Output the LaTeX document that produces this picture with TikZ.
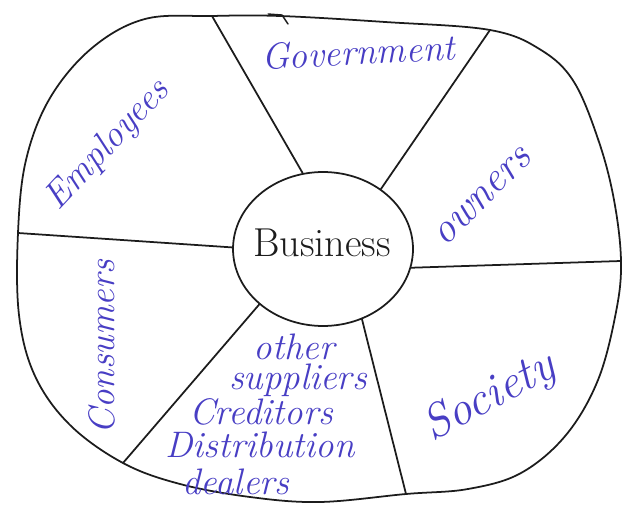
\documentclass[tikz,border=0pt]{standalone}
\usetikzlibrary{shapes.geometric}
\definecolor{ink}{RGB}{72,62,196}
\definecolor{pencil}{RGB}{28,28,28}
\tikzset{
  stroke/.style={draw=pencil, line width=1pt, line cap=round, line join=round},
  hub/.style={ellipse, stroke, minimum width=3.6cm, minimum height=3.08cm, inner sep=0pt},
  party/.style={text=ink, font=\fontsize{21}{24}\selectfont\itshape, inner sep=0pt},
  hubtext/.style={text=pencil, font=\fontsize{23}{26}\selectfont, inner sep=0pt},
}
\begin{document}
\begin{tikzpicture}[x=0.02cm, y=-0.02cm]
\useasboundingbox (0,0) rectangle (628,506);

% spoke ends on the outer rim
\coordinate (rw)  at (18,233);
\coordinate (rnw) at (212,16);
\coordinate (rne) at (490,30);
\coordinate (re)  at (621,261);
\coordinate (rs)  at (406,494);
\coordinate (rsw) at (123,463);

% outer rim
\draw[stroke] plot[smooth cycle, tension=0.6] coordinates {
  (rw) (26,160) (50,98) (92,48) (145,19) (rnw) (280,16) (385,22)
  (rne) (541,50) (574,82) (599,142) (614,200) (re) (616,312) (598,380)
  (566,435) (521,473) (468,489) (rs) (320,502) (250,497) (180,484)
  (rsw) (70,425) (35,376) (19,315)};
% small pen hook on the top edge
\draw[stroke, line width=0.8pt] (268,14) -- (282,15) -- (288,24);

% central hub
\node[hub] (biz) at (323,249) {};
\node[hubtext] (bizname) at (322,243) {Business};

% spokes
\draw[stroke] (biz.105.8) -- (rnw);
\draw[stroke] (biz.46)    -- (rne);
\draw[stroke] (biz.179)   -- (rw);
\draw[stroke] (biz.-12)   -- (re);
\draw[stroke] (biz.221)   -- (rsw);
\draw[stroke] (biz.299)   -- (rs);

% stakeholders
\node[party, rotate=3] (gov) at (358,52) {Government};
\node[party, rotate=47] (emp) at (108,145) {Employees};
\node[party, font=\fontsize{24}{26}\selectfont\itshape, rotate=45] (own) at (483,197) {owners};
\node[party, rotate=90] (con) at (102,347) {Consumers};
\node[party, font=\fontsize{27}{30}\selectfont\itshape, rotate=28] (soc) at (490,398) {Society};

\node[party] (oth)  at (294,347) {other};
\node[party] (sup)  at (298,380) {suppliers};
\node[party] (cred) at (261,412) {Creditors};
\node[party] (dist) at (260,445) {Distribution};
\node[party] (deal) at (236,482) {dealers};
\end{tikzpicture}
\end{document}
